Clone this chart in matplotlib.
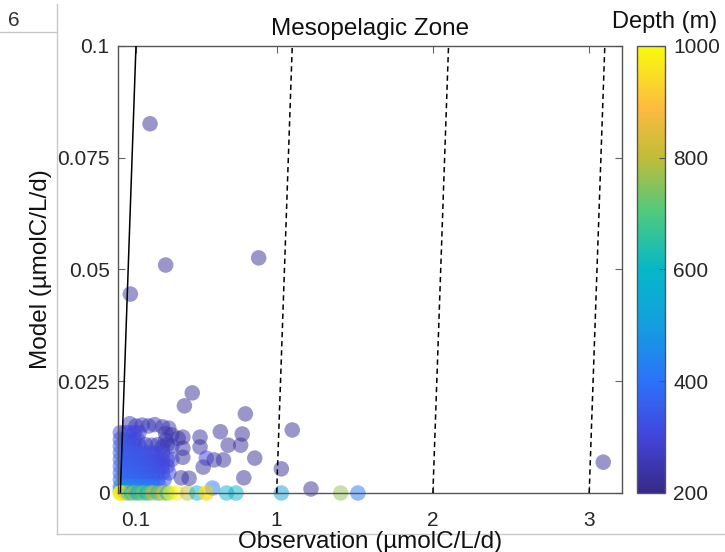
import matplotlib
matplotlib.use("Agg")
import matplotlib.pyplot as plt
from matplotlib.colors import LinearSegmentedColormap
from matplotlib.lines import Line2D

plt.rcParams['font.family'] = ['Liberation Sans', 'DejaVu Sans']

# ---------------- data ----------------
# observation (umolC/L/d), model (umolC/L/d), depth (m)
obs_sparse = [0.19, 0.29, 0.064, 0.885, 3.09, 1.10, 1.03, 1.22, 1.41, 1.52, 1.03,
              0.46, 0.41, 0.80, 0.64, 0.78, 0.51, 0.69, 0.77, 0.40, 0.51, 0.86,
              0.55, 0.60, 0.66, 0.40, 0.53, 0.79, 0.39, 0.44, 0.59, 0.68, 0.74, 0.55]
mod_sparse = [0.0826, 0.051, 0.0445, 0.0526, 0.0069, 0.0141, 0.0054, 0.0009, 0.0, 0.0, 0.0,
              0.0224, 0.0195, 0.0177, 0.0137, 0.0132, 0.0125, 0.0107, 0.0107, 0.0125, 0.0103, 0.0078,
              0.0078, 0.0074, 0.0074, 0.0080, 0.0058, 0.0034, 0.0034, 0.0033, 0.0011, 0.0, 0.0, 0.0]
dep_sparse = [220, 220, 230, 220, 220, 220, 220, 220, 760, 420, 520,
              220, 220, 220, 220, 220, 230, 220, 220, 230, 230, 220,
              300, 240, 230, 230, 230, 220, 230, 230, 430, 580, 580, 940]

obs_cluster = [
    0.06, 0.10, 0.14, 0.18, 0.22, 0.27, 0.31,
    0.00, 0.03, 0.06, 0.09, 0.12, 0.29, 0.33,
    0.00, 0.03, 0.06, 0.09, 0.11, 0.29, 0.37,
    0.00, 0.03, 0.06, 0.09, 0.12, 0.16, 0.20, 0.24, 0.27, 0.30, 0.33, 0.40,
    0.00, 0.03, 0.06, 0.09, 0.12, 0.15, 0.18, 0.21, 0.24, 0.27,
    0.00, 0.03, 0.06, 0.09, 0.12, 0.15, 0.18, 0.21, 0.24, 0.27, 0.30, 0.33,
    0.00, 0.03, 0.06, 0.09, 0.12, 0.15, 0.18, 0.21, 0.24, 0.27, 0.30,
    0.00, 0.03, 0.06, 0.09, 0.12, 0.15, 0.18, 0.21, 0.24, 0.27, 0.31,
    0.00, 0.03, 0.06, 0.09, 0.12, 0.15, 0.18, 0.21, 0.24, 0.28,
    0.00, 0.03, 0.06, 0.09, 0.12, 0.15, 0.18, 0.21, 0.25,
    0.00, 0.04, 0.08, 0.12, 0.16, 0.20,
]
mod_cluster = [
    0.0155, 0.0150, 0.0152, 0.0150, 0.0153, 0.0148, 0.0145,
    0.0135, 0.0135, 0.0135, 0.0135, 0.0135, 0.0133, 0.0130,
    0.0120, 0.0120, 0.0120, 0.0120, 0.0120, 0.0118, 0.0122,
    0.0105, 0.0105, 0.0105, 0.0105, 0.0105, 0.0108, 0.0107, 0.0108, 0.0103, 0.0108, 0.0105, 0.0100,
    0.0090, 0.0090, 0.0090, 0.0090, 0.0090, 0.0090, 0.0090, 0.0090, 0.0090, 0.0090,
    0.0075, 0.0075, 0.0075, 0.0075, 0.0075, 0.0075, 0.0075, 0.0075, 0.0075, 0.0075, 0.0075, 0.0075,
    0.0060, 0.0060, 0.0060, 0.0060, 0.0060, 0.0060, 0.0060, 0.0060, 0.0060, 0.0060, 0.0060,
    0.0045, 0.0045, 0.0045, 0.0045, 0.0045, 0.0045, 0.0045, 0.0045, 0.0045, 0.0045, 0.0045,
    0.0030, 0.0030, 0.0030, 0.0030, 0.0030, 0.0030, 0.0030, 0.0030, 0.0030, 0.0030,
    0.0015, 0.0015, 0.0015, 0.0015, 0.0015, 0.0015, 0.0015, 0.0015, 0.0015,
    0.0006, 0.0006, 0.0006, 0.0006, 0.0006, 0.0006,
]
dep_cluster = [
    265, 270, 265, 260, 255, 250, 250,
    320, 315, 310, 300, 290, 245, 245,
    330, 325, 320, 310, 300, 245, 240,
    340, 335, 330, 325, 315, 280, 270, 265, 255, 260, 255, 245,
    350, 345, 340, 335, 330, 325, 320, 315, 305, 295,
    355, 350, 345, 345, 340, 335, 330, 325, 315, 305, 295, 285,
    360, 355, 350, 350, 345, 340, 335, 330, 320, 310, 300,
    370, 365, 360, 360, 355, 350, 345, 340, 330, 320, 310,
    380, 375, 370, 370, 365, 360, 355, 350, 340, 330,
    420, 430, 440, 420, 410, 410, 400, 400, 390,
    470, 480, 460, 450, 440, 440,
]

obs_zero = [0.0, 0.0, 0.0, 0.03, 0.05, 0.07, 0.09, 0.11, 0.13, 0.15, 0.17, 0.19,
            0.21, 0.24, 0.26, 0.28, 0.30, 0.32, 0.36, 0.43, 0.49, 0.55]
mod_zero = [0.0] * 22
dep_zero = [1000, 1000, 980, 900, 700, 620, 800, 560, 680, 750, 600, 720,
            850, 650, 760, 900, 620, 1000, 980, 800, 580, 980]

obs = obs_cluster + obs_zero + obs_sparse
mod = mod_cluster + mod_zero + mod_sparse
dep = dep_cluster + dep_zero + dep_sparse

ref_offsets = [0, 1, 2, 3]   # reference lines y = x - offset

# ---------------- colormap (parula-like) ----------------
parula = LinearSegmentedColormap.from_list("parula_like", [
    (0.000, (0.208, 0.166, 0.529)),
    (0.125, (0.260, 0.270, 0.860)),
    (0.250, (0.170, 0.450, 0.980)),
    (0.375, (0.080, 0.620, 0.880)),
    (0.500, (0.020, 0.720, 0.780)),
    (0.625, (0.300, 0.790, 0.500)),
    (0.750, (0.750, 0.740, 0.220)),
    (0.860, (0.990, 0.730, 0.250)),
    (1.000, (0.976, 0.983, 0.054)),
])

W, H = 725, 552
fig = plt.figure(figsize=(W / 100, H / 100), dpi=100)

# screenshot frame remnants (behind everything)
fig.add_artist(Line2D([57 / W, 57 / W], [1 - 4 / H, 1 - 534 / H], color='#c8c8c8', lw=1, zorder=-1))
fig.add_artist(Line2D([0, 57 / W], [1 - 32 / H, 1 - 32 / H], color='#c8c8c8', lw=1, zorder=-1))
fig.add_artist(Line2D([57 / W, 1], [1 - 534 / H, 1 - 534 / H], color='#c8c8c8', lw=1, zorder=-1))
fig.text(8 / W, 1 - 20 / H, '6', ha='left', va='center', fontsize=15, color='#333333')

ax = fig.add_axes([118 / W, 1 - 493 / H, (622 - 118) / W, (493 - 46) / H])
sc = ax.scatter(obs, mod, c=dep, cmap=parula, vmin=200, vmax=1000,
                s=125, alpha=0.5, edgecolors='none', clip_on=False, zorder=2)

for k in ref_offsets:
    ax.plot([k, k + 0.1], [0, 0.1], color='black', lw=1.1,
            ls='-' if k == 0 else (0, (3.5, 2.5)), zorder=3)

ax.set_xlim(-0.015, 3.21)
ax.set_ylim(0, 0.1)
ax.set_xticks([0.1, 1, 2, 3])
ax.set_xticklabels(['0.1', '1', '2', '3'])
ax.set_yticks([0, 0.025, 0.05, 0.075, 0.1])
ax.set_yticklabels(['0', '0.025', '0.05', '0.075', '0.1'])
ax.tick_params(direction='in', top=True, right=True, length=5, width=0.8,
               color='#666666', labelsize=15, labelcolor='#262626')
ax.tick_params(axis='x', pad=13)
ax.tick_params(axis='y', pad=6)
for s in ax.spines.values():
    s.set_color('#555555')
    s.set_linewidth(1.0)

ax.set_title('Mesopelagic Zone', fontsize=17.5, color='#111111', pad=8)
ax.set_xlabel('Observation (µmolC/L/d)', fontsize=17.5, color='#111111', labelpad=1)
ax.set_ylabel('Model (µmolC/L/d)', fontsize=17.5, color='#111111', labelpad=4)

cax = fig.add_axes([637 / W, 1 - 493 / H, (665 - 637) / W, (493 - 46) / H])
cb = fig.colorbar(sc, cax=cax)
cb.solids.set_alpha(1)
cb.set_ticks([200, 400, 600, 800, 1000])
cb.ax.tick_params(direction='in', length=4, width=0.8, color='#555555',
                  labelsize=15, labelcolor='#262626', pad=6)
cb.outline.set_edgecolor('#555555')
cb.outline.set_linewidth(1.0)
fig.text(665 / W, 1 - 22 / H, 'Depth (m)', ha='center', va='center',
         fontsize=17, color='#111111')

fig.savefig('out.png', dpi=100)
